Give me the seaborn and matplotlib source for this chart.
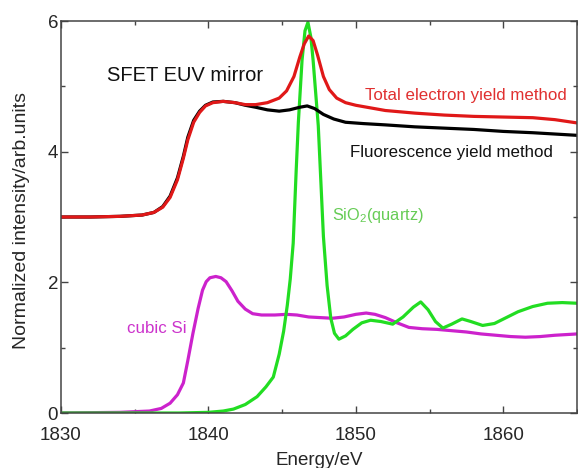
import matplotlib
matplotlib.use("Agg")
import matplotlib.pyplot as plt
from matplotlib.ticker import MultipleLocator
import seaborn as sns
import pandas as pd

# ---- data ----
tey_x = [1830, 1832, 1834, 1835.5, 1836.3, 1836.9, 1837.4, 1837.9, 1838.3, 1838.6,
         1839.0, 1839.4, 1839.8, 1840.3, 1841.0, 1841.8, 1842.5, 1843.2, 1844.0, 1844.8,
         1845.3, 1845.8, 1846.2, 1846.5, 1846.8, 1847.1, 1847.4, 1847.8, 1848.2, 1848.7,
         1849.3, 1850, 1851, 1852, 1854, 1856, 1858, 1860, 1862, 1863.5, 1865]
tey_y = [3.00, 3.00, 3.01, 3.03, 3.07, 3.15, 3.30, 3.57, 3.90, 4.18,
         4.45, 4.60, 4.70, 4.75, 4.77, 4.75, 4.72, 4.72, 4.75, 4.82,
         4.93, 5.15, 5.45, 5.65, 5.77, 5.70, 5.48, 5.15, 4.95, 4.82,
         4.75, 4.71, 4.67, 4.63, 4.59, 4.56, 4.54, 4.53, 4.52, 4.49, 4.44]

fy_x = [1830, 1832, 1834, 1835.5, 1836.3, 1836.9, 1837.4, 1837.9, 1838.3, 1838.6,
        1839.0, 1839.4, 1839.8, 1840.3, 1841.0, 1841.8, 1842.5, 1843.2, 1844.0, 1844.8,
        1845.5, 1846.2, 1846.7, 1847.2, 1847.8, 1848.5, 1849.3, 1850.5, 1852, 1854,
        1856, 1858, 1860, 1862, 1865]
fy_y = [3.00, 3.00, 3.01, 3.03, 3.07, 3.16, 3.32, 3.60, 3.93, 4.22,
        4.48, 4.62, 4.71, 4.76, 4.77, 4.75, 4.71, 4.68, 4.64, 4.62,
        4.64, 4.68, 4.70, 4.66, 4.57, 4.50, 4.45, 4.43, 4.41, 4.38,
        4.36, 4.34, 4.31, 4.29, 4.25]

sio2_x = [1830, 1838, 1840, 1841, 1841.7, 1842.5, 1843.3, 1843.9, 1844.4, 1844.8,
          1845.1, 1845.35, 1845.55, 1845.75, 1845.95, 1846.1, 1846.35, 1846.55, 1846.75, 1846.95,
          1847.1, 1847.45, 1847.8, 1848.05, 1848.3, 1848.55, 1848.85, 1849.3, 1849.8, 1850.4,
          1851.0, 1851.7, 1852.5, 1853.2, 1853.9, 1854.4, 1854.9, 1855.4, 1855.9, 1856.5,
          1857.2, 1857.8, 1858.6, 1859.4, 1860.2, 1861, 1862, 1863, 1864, 1865]
sio2_y = [0.0, 0.0, 0.01, 0.03, 0.06, 0.13, 0.25, 0.40, 0.55, 0.90,
          1.25, 1.65, 2.05, 2.60, 3.70, 4.45, 5.40, 5.85, 5.98, 5.75,
          5.40, 4.40, 2.70, 1.95, 1.45, 1.22, 1.13, 1.18, 1.28, 1.38,
          1.42, 1.40, 1.36, 1.47, 1.62, 1.70, 1.58, 1.40, 1.30, 1.36,
          1.44, 1.40, 1.34, 1.37, 1.46, 1.55, 1.63, 1.68, 1.69, 1.68]

si_x = [1830, 1834, 1836, 1836.8, 1837.4, 1837.9, 1838.3, 1838.6, 1838.95, 1839.3,
        1839.6, 1839.85, 1840.1, 1840.5, 1840.85, 1841.2, 1841.6, 1842.0, 1842.5, 1843.0,
        1843.6, 1844.5, 1845.3, 1846.0, 1846.8, 1847.6, 1848.4, 1849.2, 1850.0, 1850.7,
        1851.3, 1852.0, 1852.8, 1853.6, 1854.5, 1855.5, 1856.5, 1857.5, 1858.5, 1859.5,
        1860.5, 1861.5, 1862.5, 1863.5, 1865]
si_y = [0.0, 0.01, 0.03, 0.07, 0.15, 0.28, 0.46, 0.80, 1.22, 1.60,
        1.88, 2.01, 2.07, 2.09, 2.07, 2.01, 1.87, 1.71, 1.59, 1.52,
        1.50, 1.50, 1.51, 1.50, 1.47, 1.46, 1.45, 1.47, 1.51, 1.53,
        1.51, 1.46, 1.38, 1.31, 1.29, 1.28, 1.26, 1.24, 1.21, 1.19,
        1.17, 1.16, 1.17, 1.19, 1.21]

x_ticks = [1830, 1840, 1850, 1860]
y_ticks = [0, 2, 4, 6]

# ---- style ----
sns.set_style("ticks")
plt.rcParams['font.family'] = ['Liberation Sans', 'DejaVu Sans']
plt.rcParams['mathtext.fontset'] = 'custom'
plt.rcParams['mathtext.rm'] = 'Liberation Sans'
plt.rcParams['mathtext.default'] = 'regular'

fig = plt.figure(figsize=(5.78, 4.68), dpi=100)
ax = fig.add_axes([61/578, 1 - 413/468, 516/578, 392/468])

lw = 2.3
series = [
    (si_x, si_y, "#cc22cc"),
    (sio2_x, sio2_y, "#22dd22"),
    (fy_x, fy_y, "#000000"),
    (tey_x, tey_y, "#e01818"),
]
for xs, ys, col in series:
    df = pd.DataFrame({"x": xs, "y": ys})
    sns.lineplot(data=df, x="x", y="y", ax=ax, color=col, linewidth=lw,
                 estimator=None, sort=False)

ax.set_xlim(1830, 1865)
ax.set_ylim(0, 6)
ax.set_xticks(x_ticks)
ax.set_yticks(y_ticks)
ax.xaxis.set_minor_locator(MultipleLocator(5))
ax.yaxis.set_minor_locator(MultipleLocator(1))
ax.tick_params(which='both', direction='in', top=True, right=True,
               color='#444444', width=1.0)
ax.tick_params(which='major', length=5, labelsize=13.5)
ax.tick_params(axis='x', which='major', pad=10)
ax.tick_params(axis='y', which='major', pad=2)
ax.tick_params(which='minor', length=3)
for sp in ax.spines.values():
    sp.set_color('#444444')
    sp.set_linewidth(1.1)

ax.set_xlabel("Energy/eV", fontsize=13.5, labelpad=6)
ax.set_ylabel("Normalized intensity/arb.units", fontsize=14)
ax.yaxis.set_label_coords(-0.06, 0.49)

ax.text(1833.12, 5.17, "SFET EUV mirror", fontsize=14.5, color="#111111",
        ha="left", va="center")
ax.text(1850.64, 4.86, "Total electron yield method", fontsize=12.2,
        color="#e03030", ha="left", va="center")
ax.text(1849.62, 3.99, "Fluorescence yield method", fontsize=12.2,
        color="#111111", ha="left", va="center")
ax.text(1848.4, 3.02, r"SiO$_2$(quartz)", fontsize=11.8, color="#66cc55",
        ha="left", va="center")
ax.text(1834.48, 1.30, "cubic Si", fontsize=12.2, color="#cc33cc",
        ha="left", va="center")

fig.savefig("out.png", dpi=100)
